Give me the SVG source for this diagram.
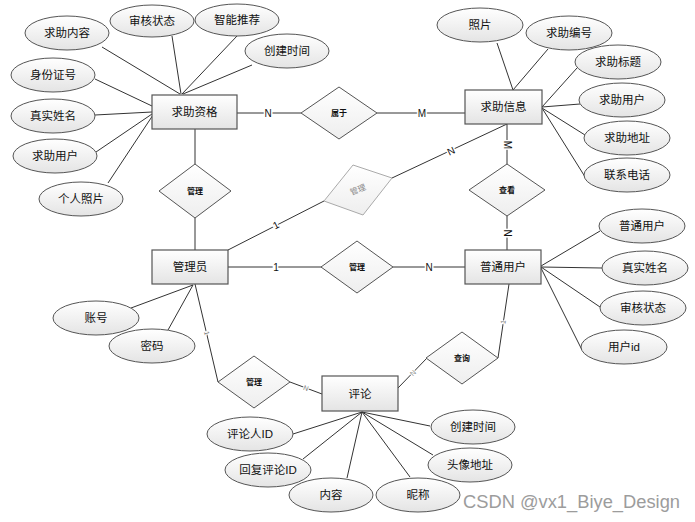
<svg xmlns="http://www.w3.org/2000/svg" width="695" height="522" viewBox="0 0 695 522">
<defs>
<linearGradient id="g" x1="0" y1="0" x2="0" y2="1">
<stop offset="0" stop-color="#ffffff"/>
<stop offset="1" stop-color="#e4e4e4"/>
</linearGradient>
<linearGradient id="gl" x1="0" y1="0" x2="0" y2="1">
<stop offset="0" stop-color="#ffffff"/>
<stop offset="1" stop-color="#eeeeee"/>
</linearGradient>
</defs>
<style>
text{font-family:"Liberation Sans","Noto Sans CJK SC",sans-serif;fill:#111;text-anchor:middle;dominant-baseline:central}
.ent rect{fill:url(#g);stroke:#555;stroke-width:1.2}
.ent text{font-size:11.5px}
.att ellipse{fill:url(#g);stroke:#555;stroke-width:1}
.att text{font-size:11.5px}
.rel polygon{fill:url(#gl);stroke:#555;stroke-width:1}
.rel text{font-size:8px;font-weight:bold}
.grey polygon{fill:url(#gl);stroke:#aaa}
.grey text{fill:#888;font-weight:normal}
#connectors line{stroke:#333;stroke-width:1}
.card{font-size:10px;stroke:#fff;stroke-width:3;paint-order:stroke}
.tiny{font-size:7px;fill:#777;stroke:#fff;stroke-width:2;paint-order:stroke}
.wm{font-size:18px;fill:#9c9c9c;text-anchor:start}
</style>
<g id="connectors">
<line x1="237" y1="113" x2="301" y2="113"/>
<line x1="377" y1="113" x2="465" y2="113"/>
<line x1="195" y1="129" x2="195" y2="164"/>
<line x1="195" y1="218" x2="195" y2="250"/>
<line x1="228" y1="267" x2="322" y2="267"/>
<line x1="393" y1="267" x2="465" y2="267"/>
<line x1="507" y1="124" x2="507" y2="164"/>
<line x1="507" y1="216" x2="507" y2="250"/>
<line x1="228" y1="250" x2="324" y2="201"/>
<line x1="392" y1="178" x2="507" y2="124"/>
<line x1="195" y1="284" x2="218" y2="382"/>
<line x1="290" y1="382" x2="322" y2="394"/>
<line x1="398" y1="388" x2="427" y2="358"/>
<line x1="498" y1="358" x2="509" y2="284"/>
<line x1="102" y1="47" x2="180" y2="94"/>
<line x1="172" y1="36" x2="181" y2="94"/>
<line x1="237" y1="36" x2="182" y2="94"/>
<line x1="252" y1="65" x2="183" y2="94"/>
<line x1="95" y1="79" x2="152" y2="106"/>
<line x1="95" y1="115" x2="152" y2="112"/>
<line x1="96" y1="152" x2="152" y2="114"/>
<line x1="108" y1="183" x2="153" y2="115"/>
<line x1="497" y1="43" x2="513" y2="90"/>
<line x1="548" y1="49" x2="513" y2="90"/>
<line x1="577" y1="68" x2="542" y2="107"/>
<line x1="580" y1="104" x2="542" y2="107"/>
<line x1="585" y1="135" x2="542" y2="108"/>
<line x1="587" y1="180" x2="542" y2="108"/>
<line x1="600" y1="231" x2="541" y2="266"/>
<line x1="602" y1="268" x2="541" y2="267"/>
<line x1="600" y1="307" x2="541" y2="267"/>
<line x1="582" y1="350" x2="541" y2="268"/>
<line x1="131" y1="308" x2="193" y2="285"/>
<line x1="168" y1="330" x2="193" y2="285"/>
<line x1="293" y1="434" x2="362" y2="412"/>
<line x1="303" y1="459" x2="362" y2="412"/>
<line x1="347" y1="478" x2="362" y2="412"/>
<line x1="410" y1="477" x2="362" y2="412"/>
<line x1="433" y1="455" x2="362" y2="412"/>
<line x1="430" y1="426" x2="362" y2="412"/>
<text class="card" x="268" y="113">N</text>
<text class="card" x="422" y="113">M</text>
<text class="card" x="276" y="267">1</text>
<text class="card" x="429" y="267">N</text>
<text class="card" transform="translate(507,145) rotate(90)">M</text>
<text class="card" transform="translate(507,233) rotate(90)">N</text>
<text class="card" transform="translate(276,225) rotate(-27)">1</text>
<text class="card" transform="translate(451,151) rotate(-25)">N</text>
<text class="tiny" transform="translate(207,333) rotate(77)">1</text>
<text class="tiny" transform="translate(306,388) rotate(20)">N</text>
<text class="tiny" transform="translate(413,373) rotate(-46)">N</text>
<text class="tiny" transform="translate(503,322) rotate(-81)">1</text>
</g>
<g id="e-qiuzhuzige" class="ent"><rect x="152" y="95" width="85" height="34"/><text x="194.5" y="112">求助资格</text></g>
<g id="e-qiuzhuxinxi" class="ent"><rect x="465" y="90" width="77" height="34"/><text x="503.5" y="107">求助信息</text></g>
<g id="e-guanliyuan" class="ent"><rect x="152" y="250" width="76" height="34"/><text x="190" y="267">管理员</text></g>
<g id="e-putongyonghu" class="ent"><rect x="465" y="250" width="76" height="34"/><text x="503" y="267">普通用户</text></g>
<g id="e-pinglun" class="ent"><rect x="322" y="376" width="76" height="35"/><text x="360" y="393.5">评论</text></g>
<g id="r-shuyu" class="rel"><polygon points="339,87 377,113 339,139 301,113"/><text x="339" y="113">属于</text></g>
<g id="r-guanli1" class="rel"><polygon points="195,164 231,191 195,218 159,191"/><text x="195" y="191">管理</text></g>
<g id="r-guanli2" class="rel"><polygon points="357,241 393,267 357,293 321,267"/><text x="357" y="267">管理</text></g>
<g id="r-chakan" class="rel"><polygon points="507,164 545,190 507,216 469,190"/><text x="507" y="190">查看</text></g>
<g id="r-guanli3" class="rel"><polygon points="254,356 290,382 254,408 218,382"/><text x="254" y="382">管理</text></g>
<g id="r-chaxun" class="rel"><polygon points="462,332 498,358 462,384 426,358"/><text x="462" y="358">查询</text></g>
<g id="r-guanli-grey" class="rel grey"><polygon points="353,165 392,178 363,215 324,201"/><text transform="translate(358,190) rotate(-22)">管理</text></g>
<g id="a-neirong" class="att"><ellipse cx="67" cy="33" rx="42" ry="17"/><text x="67" y="33">求助内容</text></g>
<g id="a-shenhe1" class="att"><ellipse cx="152" cy="21" rx="42" ry="16"/><text x="152" y="21">审核状态</text></g>
<g id="a-tuijian" class="att"><ellipse cx="237" cy="20" rx="42" ry="16"/><text x="237" y="20">智能推荐</text></g>
<g id="a-shijian1" class="att"><ellipse cx="287" cy="51" rx="42" ry="17"/><text x="287" y="51">创建时间</text></g>
<g id="a-shenfen" class="att"><ellipse cx="53" cy="75" rx="42" ry="17"/><text x="53" y="75">身份证号</text></g>
<g id="a-xingming1" class="att"><ellipse cx="53" cy="116" rx="42" ry="17"/><text x="53" y="116">真实姓名</text></g>
<g id="a-yonghu1" class="att"><ellipse cx="55" cy="156" rx="42" ry="17"/><text x="55" y="156">求助用户</text></g>
<g id="a-zhaopian1" class="att"><ellipse cx="81" cy="199" rx="42" ry="17"/><text x="81" y="199">个人照片</text></g>
<g id="a-zhaopian2" class="att"><ellipse cx="480" cy="25" rx="43" ry="17"/><text x="480" y="25">照片</text></g>
<g id="a-bianhao" class="att"><ellipse cx="569" cy="33" rx="43" ry="17"/><text x="569" y="33">求助编号</text></g>
<g id="a-biaoti" class="att"><ellipse cx="618" cy="62" rx="43" ry="17"/><text x="618" y="62">求助标题</text></g>
<g id="a-yonghu2" class="att"><ellipse cx="622" cy="100" rx="43" ry="17"/><text x="622" y="100">求助用户</text></g>
<g id="a-dizhi" class="att"><ellipse cx="627" cy="138" rx="43" ry="17"/><text x="627" y="138">求助地址</text></g>
<g id="a-dianhua" class="att"><ellipse cx="627" cy="175" rx="43" ry="17"/><text x="627" y="175">联系电话</text></g>
<g id="a-putong" class="att"><ellipse cx="642" cy="226" rx="43" ry="17"/><text x="642" y="226">普通用户</text></g>
<g id="a-xingming2" class="att"><ellipse cx="645" cy="268" rx="43" ry="17"/><text x="645" y="268">真实姓名</text></g>
<g id="a-shenhe2" class="att"><ellipse cx="643" cy="308" rx="43" ry="17"/><text x="643" y="308">审核状态</text></g>
<g id="a-yonghuid" class="att"><ellipse cx="624" cy="347" rx="43" ry="17"/><text x="624" y="347">用户id</text></g>
<g id="a-zhanghao" class="att"><ellipse cx="96" cy="318" rx="43" ry="17"/><text x="96" y="318">账号</text></g>
<g id="a-mima" class="att"><ellipse cx="152" cy="346" rx="43" ry="17"/><text x="152" y="346">密码</text></g>
<g id="a-pinglunren" class="att"><ellipse cx="250" cy="434" rx="43" ry="17"/><text x="250" y="434">评论人ID</text></g>
<g id="a-huifu" class="att"><ellipse cx="268" cy="470" rx="43" ry="17"/><text x="268" y="470">回复评论ID</text></g>
<g id="a-neirong2" class="att"><ellipse cx="331" cy="495" rx="42" ry="17"/><text x="331" y="495">内容</text></g>
<g id="a-nicheng" class="att"><ellipse cx="418" cy="495" rx="42" ry="17"/><text x="418" y="495">昵称</text></g>
<g id="a-touxiang" class="att"><ellipse cx="470" cy="465" rx="42" ry="17"/><text x="470" y="465">头像地址</text></g>
<g id="a-shijian2" class="att"><ellipse cx="473" cy="427" rx="42" ry="17"/><text x="473" y="427">创建时间</text></g>
<text class="wm" x="463" y="502" textLength="217" lengthAdjust="spacingAndGlyphs">CSDN @vx1_Biye_Design</text>
</svg>
